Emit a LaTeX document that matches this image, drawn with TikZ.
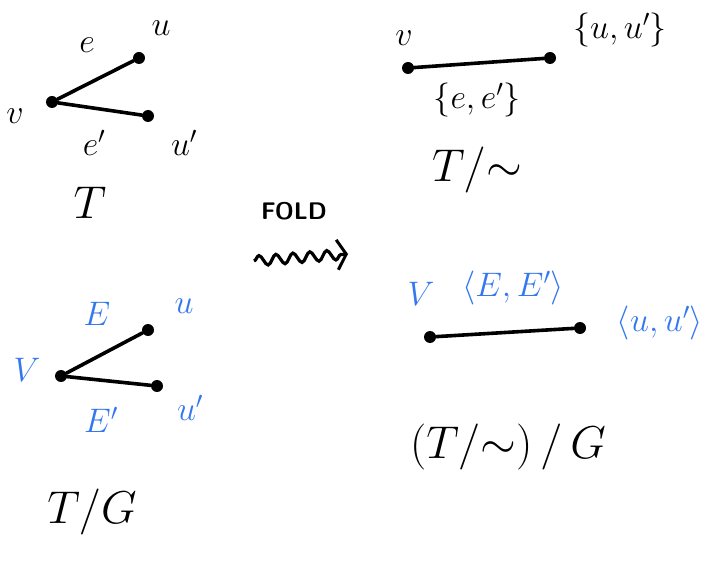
\documentclass[tikz,border=0pt]{standalone}
\usepackage{fix-cm}
\usepackage{tikz}
\usetikzlibrary{arrows.meta,decorations.pathmorphing}
\definecolor{penblue}{RGB}{52,120,240}

\begin{document}
\begin{tikzpicture}[
  x=1pt, y=-1pt,
  dot/.style={circle, fill, inner sep=0pt, minimum size=12pt},
  lbl/.style={font=\fontsize{34}{40}\selectfont},
  blbl/.style={lbl, text=penblue},
  title/.style={font=\fontsize{46}{52}\selectfont},
  edge/.style={line width=3.6pt, line cap=round},
  fold/.style={-{Straight Barb[length=9pt, width=30pt, line width=3pt]}, line width=3.2pt,
    decorate, decoration={snake, amplitude=5pt, segment length=17pt, post length=4pt}}
]
  \useasboundingbox (0,0) rectangle (717,561);

  % T
  \node[dot] (v1) at (52,102) {};
  \node[dot] (u1) at (139,58) {};
  \node[dot] (w1) at (148,116) {};
  \draw[edge] (v1) -- (u1);
  \draw[edge] (v1) -- (w1);
  \node[lbl] (v1l) at (15,116) {$v$};
  \node[lbl] (e1l) at (87,45) {$e$};
  \node[lbl] (u1l) at (161,28) {$u$};
  \node[lbl] (f1l) at (94,143) {$e'$};
  \node[lbl] (w1l) at (184,143) {$u'$};
  \node[title] (T1) at (90,203) {$T$};

  % T/~
  \node[dot] (v2) at (408,68) {};
  \node[dot] (u2) at (550,58) {};
  \draw[edge] (v2) -- (u2);
  \node[lbl] (v2l) at (404,38) {$v$};
  \node[lbl] (u2l) at (620,30) {$\{u,u'\}$};
  \node[lbl] (e2l) at (477,100) {$\{e,e'\}$};
  \node[title] (T2) at (477,170) {$T/{\sim}$};

  % fold
  \node[font=\fontsize{24}{28}\selectfont\sffamily\bfseries] (foldl) at (294,211) {FOLD};
  \coordinate (fa) at (254,261);
  \coordinate (fb) at (348,254);
  \draw[fold] (fa) -- (fb);

  % T/G
  \node[dot] (v3) at (61,376) {};
  \node[dot] (u3) at (148,330) {};
  \node[dot] (w3) at (157,386) {};
  \draw[edge] (v3) -- (u3);
  \draw[edge] (v3) -- (w3);
  \node[blbl] (v3l) at (27,370) {$V$};
  \node[blbl] (e3l) at (97,314) {$E$};
  \node[blbl] (u3l) at (184,306) {$u$};
  \node[blbl] (f3l) at (101,420) {$E'$};
  \node[blbl] (w3l) at (190,408) {$u'$};
  \node[title] (T3) at (92,512) {$T/G$};

  % (T/~)/G
  \node[dot] (v4) at (430,337) {};
  \node[dot] (u4) at (580,328) {};
  \draw[edge] (v4) -- (u4);
  \node[blbl] (v4l) at (421,294) {$V$};
  \node[blbl] (e4l) at (513,288) {$\langle E,E'\rangle$};
  \node[blbl] (u4l) at (660,323) {$\langle u,u'\rangle$};
  \node[title] (T4) at (508,447) {$(T/{\sim})\,/\,G$};
\end{tikzpicture}
\end{document}
